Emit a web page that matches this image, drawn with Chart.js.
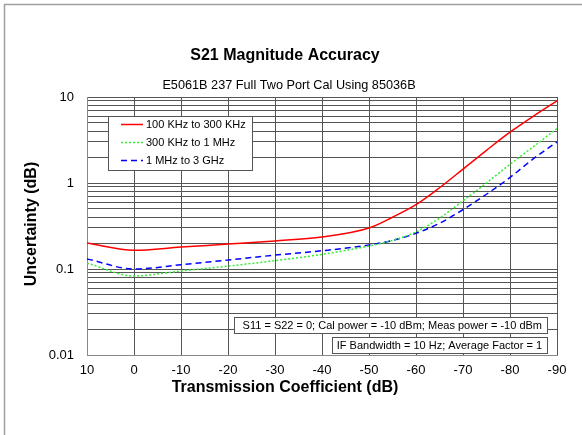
<!DOCTYPE html>
<html><head><meta charset="utf-8">
<script src="https://cdn.jsdelivr.net/npm/chart.js@4/dist/chart.umd.min.js"></script>
<style>html,body{margin:0;padding:0;background:#fff}#wrap{width:582px;height:435px;position:relative}</style>
</head><body><div id="wrap"><canvas id="c" width="582" height="435"></canvas></div>
<script>
const xValues = [10, 0, -10, -20, -30, -40, -50, -55, -60, -65, -70, -75, -80, -85, -90];
const red100k = [0.20, 0.165, 0.18, 0.195, 0.212, 0.236, 0.30, 0.40, 0.56, 0.88, 1.45, 2.4, 3.9, 6.0, 9.0];
const green300k = [0.117, 0.083, 0.095, 0.108, 0.125, 0.148, 0.185, 0.215, 0.27, 0.39, 0.62, 1.0, 1.65, 2.65, 4.3];
const blue1M = [0.131, 0.10, 0.112, 0.127, 0.145, 0.163, 0.19, 0.215, 0.26, 0.34, 0.49, 0.74, 1.16, 1.92, 3.0];
const seriesNames = ['100 KHz to 300 KHz', '300 KHz to 1 MHz', '1 MHz to 3 GHz'];
const xTickValues = [10, 0, -10, -20, -30, -40, -50, -60, -70, -80, -90];
const yTickLabels = ['0.01', '0.1', '1', '10'];
const titleText = 'S21 Magnitude Accuracy';
const subtitleText = 'E5061B 237 Full Two Port Cal Using 85036B';
const xTitle = 'Transmission Coefficient (dB)';
const yTitle = 'Uncertainty (dB)';
const noteLines = ['S11 = S22 = 0; Cal power = -10 dBm; Meas power = -10 dBm', 'IF Bandwidth = 10 Hz; Average Factor = 1'];

const FONT = '"Liberation Sans", Arial, sans-serif';
const toPts = arr => xValues.map((x, i) => ({x: x, y: arr[i]}));

const yGridVals = [];
for (let e = -2; e <= 0; e++) for (let d = 1; d <= 9; d++) yGridVals.push(parseFloat((d * Math.pow(10, e)).toPrecision(3)));
yGridVals.push(10);

const styles = [
  {color: '#ff0000', dash: [], width: 1.5},
  {color: '#33ee33', dash: [2, 2], width: 1.5},
  {color: '#0000ff', dash: [6, 4], width: 1.5}
];

const deco = {
  id: 'deco',
  afterDraw(chart) {
    const ctx = chart.ctx;
    ctx.save();
    // frame
    ctx.strokeStyle = '#a0a0a0'; ctx.lineWidth = 1.5;
    ctx.beginPath(); ctx.moveTo(4.5, 435); ctx.lineTo(4.5, 4.5); ctx.lineTo(582, 4.5); ctx.stroke();
    ctx.fillStyle = '#000';
    ctx.textAlign = 'center'; ctx.textBaseline = 'middle';
    ctx.font = 'bold 16px ' + FONT;
    ctx.fillText(titleText, 285, 56);
    ctx.font = '12.7px ' + FONT;
    ctx.fillText(subtitleText, 289, 85);
    ctx.font = 'bold 16px ' + FONT;
    ctx.fillText(xTitle, 285, 388);
    ctx.save(); ctx.translate(32, 224); ctx.rotate(-Math.PI / 2);
    ctx.fillText(yTitle, 0, 0); ctx.restore();
    // legend box
    ctx.fillStyle = '#fff'; ctx.strokeStyle = '#555'; ctx.lineWidth = 1;
    ctx.fillRect(108, 116, 144, 54); ctx.strokeRect(108.5, 116.5, 144, 54);
    ctx.font = '11px ' + FONT; ctx.textAlign = 'left';
    chart.data.datasets.forEach((ds, i) => {
      const y = 124 + i * 18;
      ctx.strokeStyle = ds.borderColor; ctx.lineWidth = ds.borderWidth; ctx.setLineDash(ds.borderDash || []);
      ctx.beginPath(); ctx.moveTo(121, y + 0.5); ctx.lineTo(143, y + 0.5); ctx.stroke();
      ctx.setLineDash([]);
      ctx.fillStyle = '#000'; ctx.fillText(ds.label, 146, y + 0.5);
    });
    // notes
    const boxes = [[234, 317, 313, 16], [332, 337, 215, 16]];
    noteLines.forEach((t, i) => {
      const b = boxes[i];
      ctx.fillStyle = '#fff'; ctx.fillRect(b[0], b[1], b[2], b[3]);
      ctx.strokeStyle = '#555'; ctx.lineWidth = 1; ctx.strokeRect(b[0] + 0.5, b[1] + 0.5, b[2], b[3]);
      ctx.fillStyle = '#000'; ctx.textAlign = 'right';
      ctx.fillText(t, b[0] + b[2] - 5, b[1] + b[3] / 2 + 1);
    });
    ctx.restore();
  }
};

new Chart(document.getElementById('c'), {
  type: 'scatter',
  data: {
    datasets: [red100k, green300k, blue1M].map((arr, i) => ({
      label: seriesNames[i],
      data: toPts(arr),
      showLine: true,
      borderColor: styles[i].color,
      backgroundColor: styles[i].color,
      borderWidth: styles[i].width,
      borderDash: styles[i].dash,
      pointRadius: 0,
      cubicInterpolationMode: 'monotone',
      fill: false
    }))
  },
  options: {
    responsive: false,
    animation: false,
    layout: {padding: {left: 0, right: 25, top: 97, bottom: 0}},
    plugins: {legend: {display: false}, tooltip: {enabled: false}, title: {display: false}},
    scales: {
      x: {
        type: 'linear', reverse: true, min: -90, max: 10,
        afterBuildTicks: s => { s.ticks = xTickValues.map(v => ({value: v})); },
        afterFit: s => { s.height = 80; },
        grid: {color: '#555', lineWidth: 1, drawTicks: false},
        border: {color: '#888', width: 1},
        ticks: {color: '#000', font: {family: FONT, size: 13}, padding: 8, maxRotation: 0, autoSkip: false,
                callback: v => String(v)}
      },
      y: {
        type: 'logarithmic', min: 0.01, max: 10,
        afterBuildTicks: s => { s.ticks = yGridVals.map(v => ({value: v})); },
        afterFit: s => { s.width = 87; },
        grid: {color: '#555', lineWidth: 1, drawTicks: false},
        border: {color: '#888', width: 1},
        ticks: {color: '#000', font: {family: FONT, size: 13}, padding: 13, autoSkip: false,
                callback: v => { const s = yTickLabels.find(l => Math.abs(parseFloat(l) - v) < 1e-9); return s === undefined ? '' : s; }}
      }
    }
  },
  plugins: [deco]
});
</script></body></html>
